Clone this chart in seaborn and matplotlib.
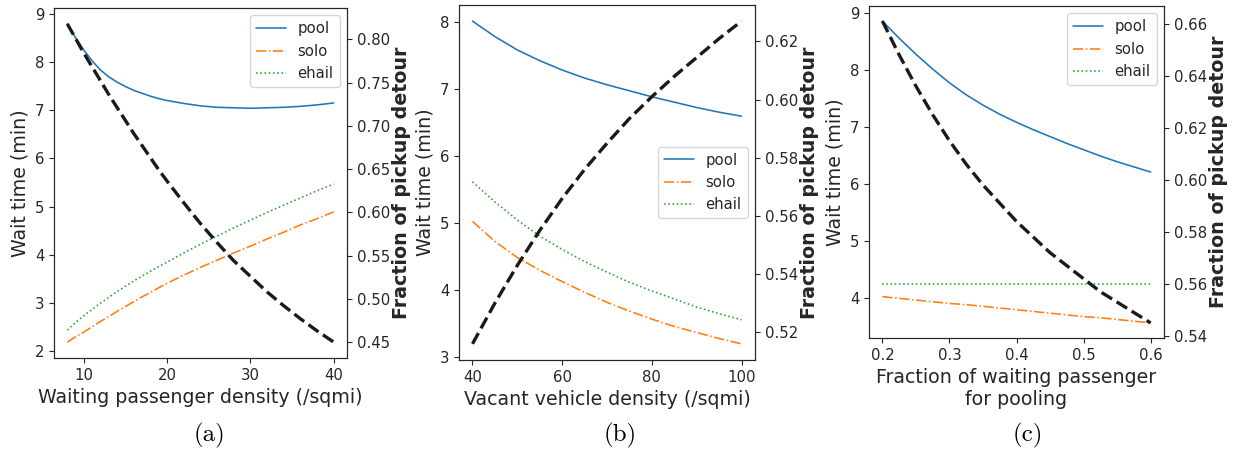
import numpy as np
import pandas as pd
import matplotlib
matplotlib.use("Agg")
import matplotlib.pyplot as plt
import seaborn as sns

# ---------------- data ----------------
# (a) waiting passenger density
a_x = [8, 9, 10, 11, 12, 13, 14, 15, 16, 17, 18, 19, 20, 22, 24, 26, 28, 30, 32, 34, 36, 38, 40]
a_pool = [8.79, 8.50, 8.24, 8.02, 7.83, 7.69, 7.58, 7.49, 7.41, 7.35, 7.29, 7.24, 7.20,
          7.14, 7.09, 7.06, 7.05, 7.04, 7.05, 7.06, 7.08, 7.11, 7.15]
a_solo = [2.19, 2.30, 2.40, 2.51, 2.62, 2.72, 2.83, 2.93, 3.03, 3.13, 3.22, 3.32, 3.41,
          3.58, 3.74, 3.89, 4.04, 4.18, 4.33, 4.47, 4.62, 4.75, 4.89]
a_ehail = [2.44, 2.60, 2.74, 2.87, 3.00, 3.12, 3.24, 3.35, 3.46, 3.56, 3.66, 3.76, 3.85,
           4.04, 4.22, 4.39, 4.56, 4.72, 4.88, 5.03, 5.18, 5.33, 5.47]
a_detour = [0.818, 0.801, 0.784, 0.768, 0.752, 0.736, 0.721, 0.706, 0.691, 0.677, 0.663, 0.649, 0.636,
            0.611, 0.587, 0.565, 0.544, 0.526, 0.508, 0.492, 0.477, 0.463, 0.450]

# (b) vacant vehicle density
b_x = [40, 45, 50, 55, 60, 65, 70, 75, 80, 85, 90, 95, 100]
b_pool = [8.01, 7.78, 7.58, 7.42, 7.28, 7.16, 7.06, 6.97, 6.88, 6.80, 6.72, 6.65, 6.59]
b_solo = [5.02, 4.72, 4.48, 4.29, 4.12, 3.96, 3.81, 3.68, 3.56, 3.45, 3.36, 3.27, 3.19]
b_ehail = [5.61, 5.31, 5.04, 4.80, 4.60, 4.42, 4.26, 4.11, 3.98, 3.86, 3.74, 3.64, 3.55]
b_detour = [0.516, 0.530, 0.543, 0.555, 0.566, 0.576, 0.585, 0.5935, 0.601, 0.608, 0.6145, 0.621, 0.627]

# (c) fraction of waiting passengers for pooling
c_x = [0.200, 0.225, 0.250, 0.275, 0.300, 0.325, 0.350, 0.375, 0.400,
       0.425, 0.450, 0.475, 0.500, 0.525, 0.550, 0.575, 0.600]
c_pool = [8.85, 8.55, 8.27, 8.01, 7.77, 7.56, 7.38, 7.22, 7.08,
          6.95, 6.83, 6.71, 6.60, 6.49, 6.39, 6.30, 6.21]
c_solo = [4.03, 4.00, 3.97, 3.94, 3.91, 3.89, 3.86, 3.83, 3.80,
          3.77, 3.74, 3.71, 3.68, 3.66, 3.63, 3.60, 3.57]
c_ehail = [4.25, 4.25, 4.25, 4.25, 4.25, 4.25, 4.25, 4.25, 4.25,
           4.25, 4.25, 4.25, 4.25, 4.25, 4.25, 4.25, 4.25]
c_detour = [0.661, 0.648, 0.636, 0.625, 0.615, 0.606, 0.598, 0.591, 0.584,
            0.578, 0.572, 0.567, 0.562, 0.557, 0.553, 0.549, 0.545]

series_names = ["pool", "solo", "ehail"]
x_labels = ["Waiting passenger density (/sqmi)",
            "Vacant vehicle density (/sqmi)",
            "Fraction of waiting passenger\nfor pooling"]
captions = ["(a)", "(b)", "(c)"]
left_label = "Wait time (min)"
right_label = "Fraction of pickup detour"

# ---------------- style ----------------
sns.set_style("ticks")
plt.rcParams['font.family'] = ['DejaVu Sans']
plt.rcParams['text.color'] = '#262626'
plt.rcParams['axes.labelcolor'] = '#262626'
plt.rcParams['xtick.color'] = '#262626'
plt.rcParams['ytick.color'] = '#262626'
plt.rcParams['axes.edgecolor'] = '#262626'

TICK_FS = 10.7
LABEL_FS = 13.7

fig = plt.figure(figsize=(12.39, 4.55), dpi=100)

W, H = 1239, 455
boxes = [  # left, top, right, bottom in pixels
    (54, 8, 347, 358),
    (459, 5, 755, 360),
    (869, 6, 1164, 338),
]
legend_locs = ["upper right", "center right", "upper right"]
caption_x = [210, 620, 1028]

panels = [
    (a_x, a_pool, a_solo, a_ehail, a_detour),
    (b_x, b_pool, b_solo, b_ehail, b_detour),
    (c_x, c_pool, c_solo, c_ehail, c_detour),
]
colors = ["#1f77b4", "#ff7f0e", "#2ca02c"]
styles = ["-", "-.", ":"]

for i, (xs, pool, solo, ehail, detour) in enumerate(panels):
    l, t, r, b = boxes[i]
    ax = fig.add_axes([l / W, 1 - b / H, (r - l) / W, (b - t) / H])
    df = pd.DataFrame({"x": xs, "pool": pool, "solo": solo, "ehail": ehail, "detour": detour})
    for name, col, ls in zip(series_names, colors, styles):
        sns.lineplot(data=df, x="x", y=name, ax=ax, color=col, linestyle=ls,
                     linewidth=1.15, label=name)
    ax.set_xlabel(x_labels[i], fontsize=LABEL_FS)
    ax.set_ylabel(left_label, fontsize=LABEL_FS)
    ax.tick_params(labelsize=TICK_FS, length=3.5, width=0.8)
    ax.legend(loc=legend_locs[i], fontsize=TICK_FS, frameon=True, fancybox=True,
              framealpha=0.8, edgecolor='#cccccc')

    ax2 = ax.twinx()
    sns.lineplot(data=df, x="x", y="detour", ax=ax2, color="#1a1a1a",
                 linestyle="--", linewidth=2.4, legend=False)
    ax2.set_ylabel(right_label, fontsize=LABEL_FS, fontweight="bold", labelpad=1.5)
    ax2.tick_params(labelsize=TICK_FS, length=3.5, width=0.8)
    for sp in ax2.spines.values():
        sp.set_visible(True)
    for sp in ax.spines.values():
        sp.set_visible(True)

    fig.text(caption_x[i] / W, 1 - 435 / H, captions[i], family=['cmr10', 'DejaVu Serif'],
             fontsize=18, ha='center', va='center', color='black')

fig.savefig("out.png", dpi=100)
